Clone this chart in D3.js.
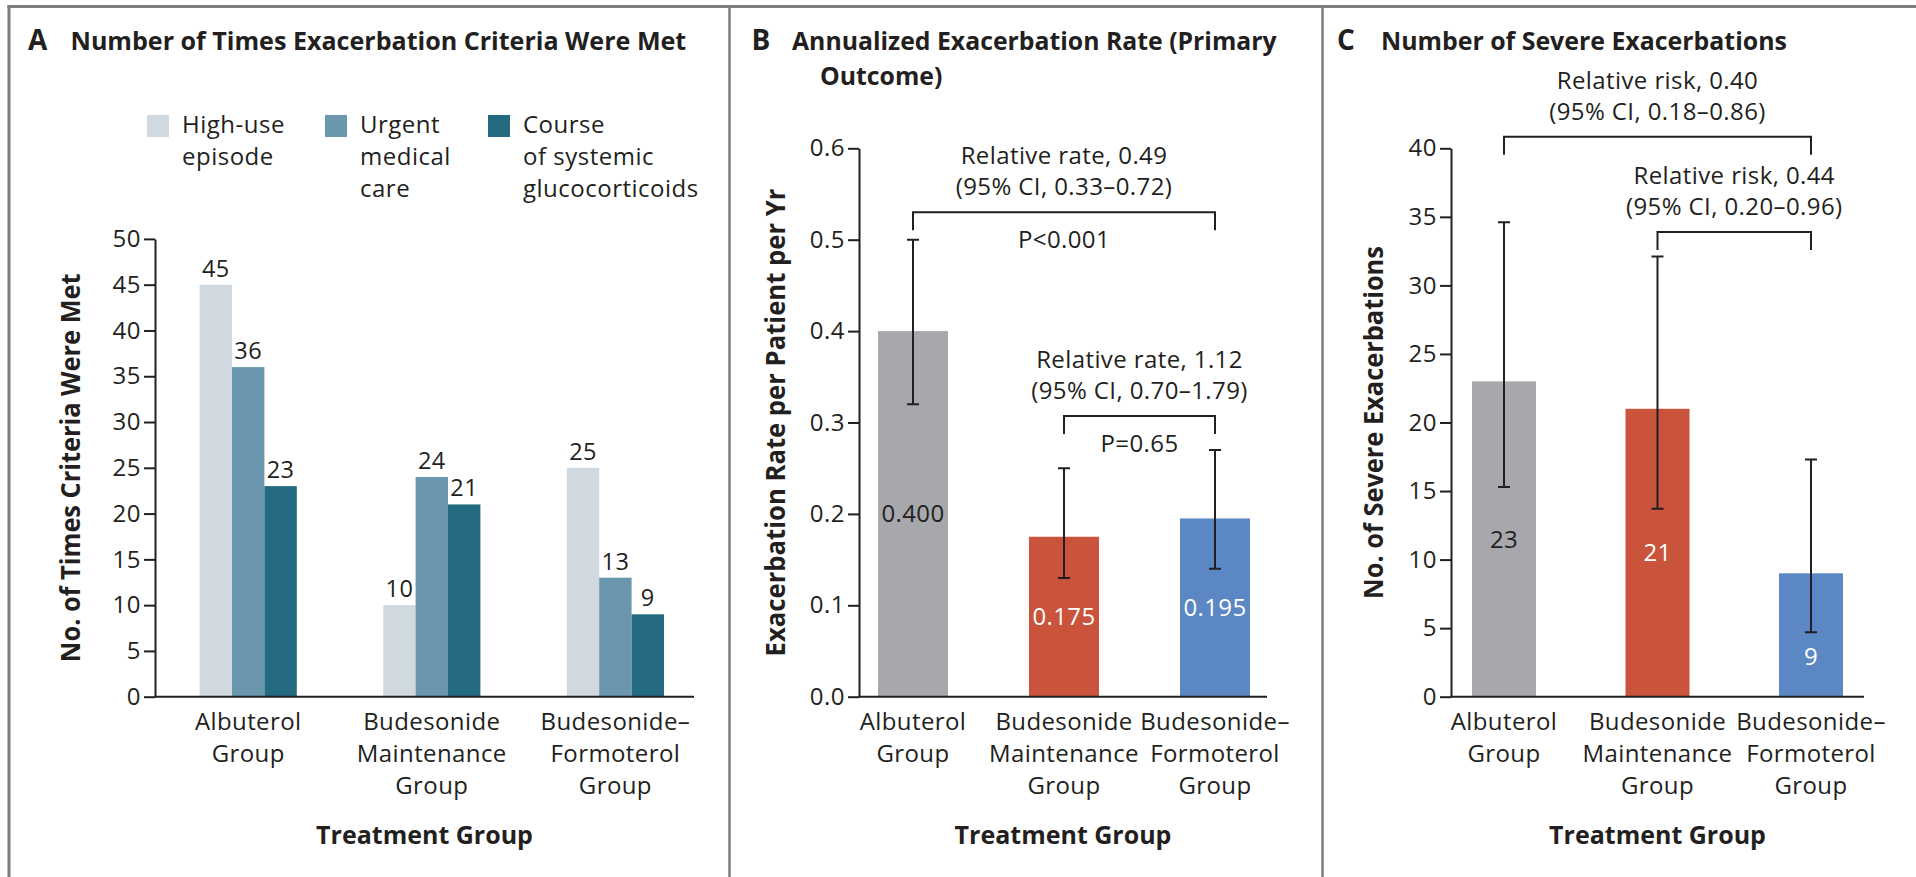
<!DOCTYPE html>
<html>
<head>
<meta charset="utf-8">
<script src="https://cdn.jsdelivr.net/npm/d3@7"></script>
<style>
  html, body { margin: 0; padding: 0; background: #fff; }
  svg { display: block; font-family: 'Open Sans', sans-serif; }
  text { fill: #231f20; }
</style>
</head>
<body>
<svg id="chart" width="1916" height="877"></svg>
<script>
'use strict';

// --- data ---------------------------------------------------------------
var groups = ['Albuterol', 'Budesonide Maintenance', 'Budesonide–Formoterol'];
var groupLines = [['Albuterol', 'Group'], ['Budesonide', 'Maintenance', 'Group'], ['Budesonide–', 'Formoterol', 'Group']];

var criteriaSeries = ['High-use episode', 'Urgent medical care', 'Course of systemic glucocorticoids'];
var criteriaLegend = [['High-use', 'episode'], ['Urgent', 'medical', 'care'], ['Course', 'of systemic', 'glucocorticoids']];
var highUse = [45, 10, 25];
var urgentCare = [36, 24, 13];
var glucocorticoids = [23, 21, 9];
var criteriaTicks = [0, 5, 10, 15, 20, 25, 30, 35, 40, 45, 50];

var rate = [0.400, 0.175, 0.195];
var rateLow = [0.32, 0.13, 0.14];
var rateHigh = [0.50, 0.25, 0.27];
var rateTicks = [0, 0.1, 0.2, 0.3, 0.4, 0.5, 0.6];
var rateComparisons = [
  { from: 0, to: 2, level: 0.53, lines: ['Relative rate, 0.49', '(95% CI, 0.33–0.72)'], p: 'P<0.001' },
  { from: 1, to: 2, level: 0.307, lines: ['Relative rate, 1.12', '(95% CI, 0.70–1.79)'], p: 'P=0.65' }
];

var severe = [23, 21, 9];
var severeLow = [15.3, 13.7, 4.7];
var severeHigh = [34.6, 32.1, 17.3];
var severeTicks = [0, 5, 10, 15, 20, 25, 30, 35, 40];
var severeComparisons = [
  { from: 0, to: 2, level: 40.85, lines: ['Relative risk, 0.40', '(95% CI, 0.18–0.86)'] },
  { from: 1, to: 2, level: 33.9, lines: ['Relative risk, 0.44', '(95% CI, 0.20–0.96)'] }
];

// --- layout -------------------------------------------------------------
var ink = '#231f20';
var criteriaColors = ['#d1d9e0', '#6a97ad', '#246a80'];
var groupColors = ['#a6a8ab', '#c9533b', '#5b87c4'];
var labelInk = [ink, '#ffffff', '#ffffff'];
var baseY = 696.7;

var svg = d3.select('#chart');

// the reference face is condensed: shrink the font until the text spans
// `width` px, then stretch it back up vertically to the wanted height
function fitText(sel, size, width, transform) {
  sel.attr('font-size', size);
  var k = width / sel.node().getComputedTextLength();
  sel.attr('font-size', size * k)
    .attr('transform', transform + ' scale(1,' + (1 / k) + ')');
  return k;
}

function frame() {
  var g = svg.append('g').attr('stroke', '#7d7d7d').attr('fill', 'none');
  g.append('line').attr('x1', 7.5).attr('x2', 1916).attr('y1', 6.5).attr('y2', 6.5).attr('stroke-width', 3);
  g.append('line').attr('x1', 9).attr('x2', 9).attr('y1', 5).attr('y2', 877).attr('stroke-width', 3);
  [729.5, 1322.5].forEach(function(x) {
    g.append('line').attr('x1', x).attr('x2', x).attr('y1', 5).attr('y2', 877).attr('stroke-width', 2.5);
  });
}

function title(letter, letterX, x, width, lines) {
  var size = 25.5, lead = 34.6;
  svg.append('text').attr('x', letterX).attr('y', 50)
    .attr('font-size', 28).attr('font-weight', 700).text(letter);

  var t = svg.append('text').attr('font-weight', 700).attr('font-size', size);
  t.selectAll('tspan')
    .data(lines)
    .join('tspan')
      .attr('x', function(d) { return d.indent; })
      .attr('y', 0)
      .text(function(d) { return d.t; });
  var k = width / t.select('tspan').node().getComputedTextLength();
  t.attr('font-size', size * k)
    .attr('transform', 'translate(' + x + ',50) scale(1,' + (1 / k) + ')');
  t.selectAll('tspan').attr('y', function(d, i) { return i * lead * k; });
}

function yAxis(y, ticks, fmt, axisX, label, labelX, labelW) {
  var g = svg.append('g')
    .attr('transform', 'translate(' + axisX + ',0)')
    .call(d3.axisLeft(y).tickValues(ticks).tickFormat(fmt).tickSize(11).tickPadding(3).tickSizeOuter(0));
  g.attr('font-size', null).attr('font-family', null).style('color', ink);
  g.select('.domain').attr('stroke-width', 2);
  g.selectAll('.tick line').attr('stroke-width', 2);
  g.selectAll('.tick text').attr('font-size', 24).attr('letter-spacing', 0.5).style('fill', ink);

  var mid = (y.range()[0] + y.range()[1]) / 2;
  var t = svg.append('text')
    .attr('text-anchor', 'middle').attr('font-weight', 700)
    .text(label);
  fitText(t, 26, labelW, 'translate(' + labelX + ',' + mid + ') rotate(-90)');
}

function xAxis(x, x0, x1) {
  svg.append('line').attr('x1', x0).attr('x2', x1).attr('y1', baseY).attr('y2', baseY)
    .attr('stroke', ink).attr('stroke-width', 2);

  var cat = svg.append('g').selectAll('text')
    .data(groups)
    .join('text')
      .attr('text-anchor', 'middle').attr('font-size', 24).attr('letter-spacing', 0.4);
  cat.selectAll('tspan')
    .data(function(d, i) { return groupLines[i]; })
    .join('tspan')
      .attr('x', function() { return x(d3.select(this.parentNode).datum()); })
      .attr('y', function(d, i) { return baseY + 33.3 + i * 32; })
      .text(function(d) { return d; });

  svg.append('text').attr('x', (x0 + x1) / 2).attr('y', 844)
    .attr('text-anchor', 'middle').attr('font-size', 25).attr('font-weight', 700)
    .text('Treatment Group');
}

function errorBars(x, y, low, high) {
  var g = svg.append('g').attr('stroke', ink).attr('stroke-width', 2).attr('fill', 'none');
  g.selectAll('path')
    .data(groups)
    .join('path')
      .attr('d', function(d, i) {
        var cx = x(d), y0 = y(low[i]), y1 = y(high[i]);
        return 'M' + cx + ',' + y0 + 'V' + y1 +
          'M' + (cx - 6) + ',' + y0 + 'H' + (cx + 6) +
          'M' + (cx - 6) + ',' + y1 + 'H' + (cx + 6);
      });
}

function brackets(x, y, comps) {
  comps.forEach(function(c) {
    var xa = x(groups[c.from]), xb = x(groups[c.to]), yl = y(c.level);
    var cx = (xa + xb) / 2;
    svg.append('path')
      .attr('d', 'M' + xa + ',' + (yl + 18) + 'V' + yl + 'H' + xb + 'V' + (yl + 18))
      .attr('fill', 'none').attr('stroke', ink).attr('stroke-width', 2);
    c.lines.forEach(function(t, i) {
      svg.append('text').attr('x', cx).attr('y', yl - 48 + i * 31)
        .attr('text-anchor', 'middle').attr('font-size', 24).attr('letter-spacing', 0.4)
        .text(t);
    });
    if (c.p) {
      svg.append('text').attr('x', cx).attr('y', yl + 36)
        .attr('text-anchor', 'middle').attr('font-size', 24).attr('letter-spacing', 0.4)
        .text(c.p);
    }
  });
}

function simpleBars(x, y, values, low, barW, fmt) {
  svg.append('g').selectAll('rect')
    .data(values)
    .join('rect')
      .attr('x', function(d, i) { return x(groups[i]) - barW / 2; })
      .attr('y', function(d) { return y(d); })
      .attr('width', barW)
      .attr('height', function(d) { return y(0) - y(d); })
      .attr('fill', function(d, i) { return groupColors[i]; });

  // value sits mid-bar, or just under the error bar when that would hide it
  svg.append('g').selectAll('text')
    .data(values)
    .join('text')
      .attr('x', function(d, i) { return x(groups[i]); })
      .attr('y', function(d, i) { return Math.max(y(d / 2), y(low[i]) + 24) + 8.5; })
      .attr('text-anchor', 'middle').attr('font-size', 24).attr('letter-spacing', 0.4)
      .style('fill', function(d, i) { return labelInk[i]; })
      .text(fmt);
}

// --- panel A ------------------------------------------------------------
function panelA() {
  title('A', 28, 70.5, 616, [{ t: 'Number of Times Exacerbation Criteria Were Met', indent: 0 }]);

  var legendX = [147, 325, 488];
  var lg = svg.append('g').selectAll('g')
    .data(criteriaSeries)
    .join('g')
      .attr('transform', function(d, i) { return 'translate(' + legendX[i] + ',115)'; });
  lg.append('rect').attr('width', 22).attr('height', 22)
    .attr('fill', function(d, i) { return criteriaColors[i]; });
  lg.append('text').attr('font-size', 24).attr('letter-spacing', 0.5)
    .selectAll('tspan')
    .data(function(d, i) { return criteriaLegend[i]; })
    .join('tspan')
      .attr('x', 35)
      .attr('y', function(d, i) { return 18 + i * 32; })
      .text(function(d) { return d; });

  var y = d3.scaleLinear().domain([0, 50]).range([baseY, 238.9]);
  var x = d3.scalePoint().domain(groups).range([248.2, 615.4]);
  var xs = d3.scaleBand().domain(criteriaSeries).range([-48.6, 48.6]);
  var table = [highUse, urgentCare, glucocorticoids];

  var rows = [];
  groups.forEach(function(g, i) {
    criteriaSeries.forEach(function(s, j) {
      rows.push({ group: g, series: s, value: table[j][i], k: j });
    });
  });

  yAxis(y, criteriaTicks, d3.format('d'), 155, 'No. of Times Criteria Were Met', 80, 389);

  var bar = svg.append('g').selectAll('g')
    .data(rows)
    .join('g')
      .attr('transform', function(d) { return 'translate(' + (x(d.group) + xs(d.series)) + ',0)'; });
  bar.append('rect')
    .attr('y', function(d) { return y(d.value); })
    .attr('width', xs.bandwidth())
    .attr('height', function(d) { return y(0) - y(d.value); })
    .attr('fill', function(d) { return criteriaColors[d.k]; });
  bar.append('text')
    .attr('x', xs.bandwidth() / 2)
    .attr('y', function(d) { return y(d.value) - 8; })
    .attr('text-anchor', 'middle').attr('font-size', 23.5).attr('letter-spacing', 0.4)
    .text(function(d) { return d.value; });

  xAxis(x, 155, 694);
}

// --- panel B ------------------------------------------------------------
function panelB() {
  title('B', 751.6, 792, 485, [
    { t: 'Annualized Exacerbation Rate (Primary', indent: 0 },
    { t: 'Outcome)', indent: 28 }
  ]);

  var y = d3.scaleLinear().domain([0, 0.6]).range([baseY, 148.3]);
  var x = d3.scalePoint().domain(groups).range([913, 1215]);

  yAxis(y, rateTicks, d3.format('.1f'), 859, 'Exacerbation Rate per Patient per Yr', 785, 468);
  simpleBars(x, y, rate, rateLow, 70, d3.format('.3f'));
  errorBars(x, y, rateLow, rateHigh);
  brackets(x, y, rateComparisons);
  xAxis(x, 859, 1267);
}

// --- panel C ------------------------------------------------------------
function panelC() {
  title('C', 1337, 1381, 406, [{ t: 'Number of Severe Exacerbations', indent: 0 }]);

  var y = d3.scaleLinear().domain([0, 40]).range([baseY, 148.3]);
  var x = d3.scalePoint().domain(groups).range([1504, 1811]);

  yAxis(y, severeTicks, d3.format('d'), 1451, 'No. of Severe Exacerbations', 1383, 353);
  simpleBars(x, y, severe, severeLow, 64, d3.format('d'));
  errorBars(x, y, severeLow, severeHigh);
  brackets(x, y, severeComparisons);
  xAxis(x, 1451, 1864);
}

frame();
panelA();
panelB();
panelC();
</script>
</body>
</html>
